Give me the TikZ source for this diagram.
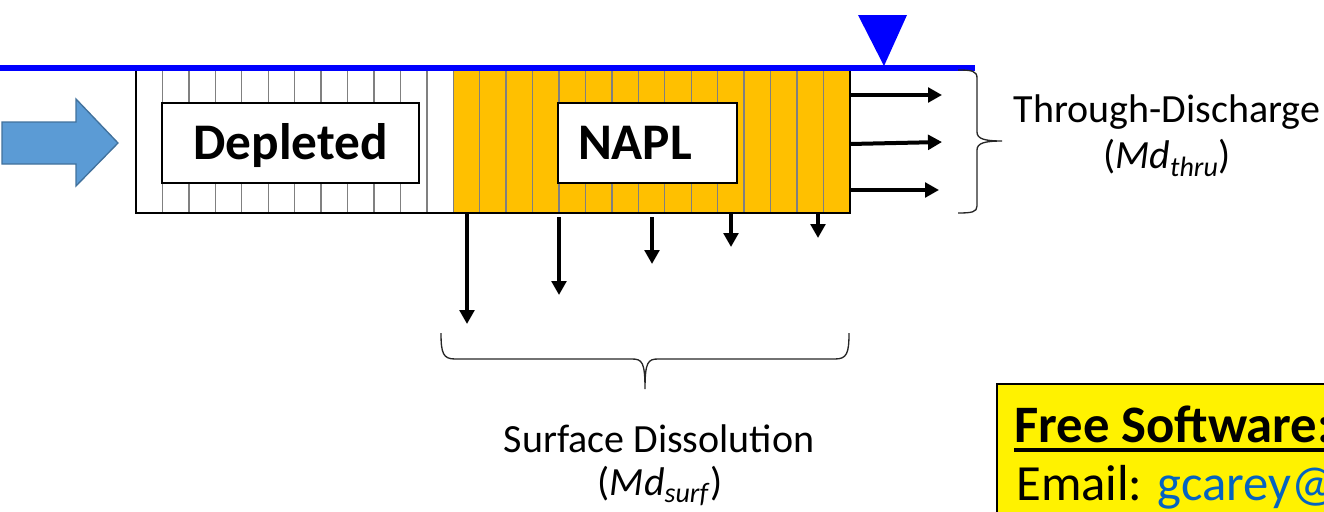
\documentclass[tikz,border=0pt]{standalone}
\usepackage{fontspec}
\setmainfont{Carlito}
\usetikzlibrary{arrows.meta}
\definecolor{naplfill}{HTML}{FFC000}
\definecolor{arrowblue}{HTML}{5B9BD5}
\definecolor{arrowedge}{HTML}{41719C}
\definecolor{linkblue}{HTML}{0563C1}
\definecolor{water}{HTML}{0000FF}
\begin{document}
\begin{tikzpicture}[x=0.75pt,y=-0.75pt,
  gridline/.style={draw=gray, line width=1pt},
  zonelabel/.style={draw=black, line width=1.4pt, fill=white, inner ysep=0pt, inner xsep=15pt,
    minimum height=60pt, text height=25pt, text depth=0pt, font=\fontsize{38.5}{44}\selectfont\bfseries},
  flow/.style={line width=3pt, -{Triangle[length=10.5pt,width=11pt]}},
  bracepath/.style={draw=black!85, line width=1pt},
  caption/.style={font=\fontsize{30}{36}\selectfont, anchor=base, inner sep=0pt},
  boxtext/.style={font=\fontsize{38}{44}\selectfont, anchor=base west, inner sep=0pt}]
\useasboundingbox (0,0) rectangle (1324,511);

% inflow arrow
\draw[fill=arrowblue, draw=arrowedge, line width=1pt]
  (2,122) -- (76,122) -- (76,99) -- (118,143) -- (76,186) -- (76,164) -- (2,164) -- cycle;

% NAPL zone fill
\fill[naplfill] (454,71) rectangle (850,213);
% grid lines
\foreach \i in {1,...,26}
  \draw[gridline] ({136+\i*26.44},71) -- ({136+\i*26.44},213);
% outer box
\draw[line width=1.5pt] (136,66) -- (136,213) -- (850,213) -- (850,66);

% labels
\node[zonelabel, text width=162.75pt, align=center] (depl) at (290.5,143) {Depleted};
\node[zonelabel, text width=104.25pt, align=left] (napl) at (647.5,143) {NAPL};

% water table
\fill[water] (0,65) rectangle (975,71);
\fill[water] (858,15) -- (907,15) -- (884,66) -- cycle;

% through discharge arrows
\coordinate (t1s) at (850,95);  \coordinate (t1e) at (942,95);
\coordinate (t2s) at (850,144); \coordinate (t2e) at (942,142);
\coordinate (t3s) at (850,190); \coordinate (t3e) at (939,190);
\draw[flow] (t1s) -- (t1e);
\draw[flow] (t2s) -- (t2e);
\draw[flow] (t3s) -- (t3e);

% surface dissolution arrows
\coordinate (s1s) at (467,213); \coordinate (s1e) at (467,324);
\coordinate (s2s) at (559,217); \coordinate (s2e) at (559,295);
\coordinate (s3s) at (652,217); \coordinate (s3e) at (652,264);
\coordinate (s4s) at (731,213); \coordinate (s4e) at (731,247);
\coordinate (s5s) at (818,213); \coordinate (s5e) at (818,238);
\draw[flow] (s1s) -- (s1e);
\draw[flow] (s2s) -- (s2e);
\draw[flow] (s3s) -- (s3e);
\draw[flow] (s4s) -- (s4e);
\draw[flow] (s5s) -- (s5e);

% right brace
\draw[bracepath] (958,70) .. controls (972,70) and (977,71) .. (977,78) -- (977,132)
  .. controls (977,139) and (985,141) .. (1002,141)
  .. controls (985,141) and (977,143) .. (977,150) -- (977,206)
  .. controls (977,212) and (972,213) .. (958,213);

% bottom brace
\draw[bracepath] (441,333) .. controls (441,353) and (443,359) .. (455,359) -- (632,359)
  .. controls (642,359) and (645,362) .. (645,389)
  .. controls (645,362) and (648,359) .. (658,359) -- (835,359)
  .. controls (847,359) and (849,353) .. (849,333);

% captions
\node[caption] (thru1) at (1167,122) {Through-Discharge};
\node[caption] (thru2) at (1167,168) {(\textit{Md}\textsubscript{\textit{thru}})};
\node[caption] (surf1) at (659,452) {Surface Dissolution};
\node[caption] (surf2) at (660,495) {(\textit{Md}\textsubscript{\textit{surf}})};

% free software box
\draw[fill=yellow, line width=1pt] (997,384) rectangle (1340,530);
\node[boxtext, font=\fontsize{39.5}{44}\selectfont\bfseries] (fs) at (1014,442) {Free Software:};
\draw[line width=2.6pt] ([yshift=-6pt]fs.base west) -- ([yshift=-6pt]fs.base east);
\node[boxtext] (email) at (1016,500) {Email: \textcolor{linkblue}{gcarey@}};
\end{tikzpicture}
\end{document}
